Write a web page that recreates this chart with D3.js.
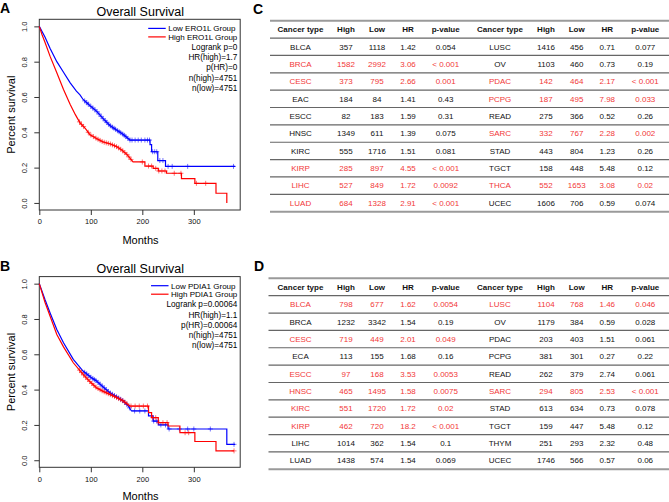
<!DOCTYPE html>
<html>
<head>
<meta charset="utf-8">
<script src="https://cdn.jsdelivr.net/npm/d3@7"></script>
<style>
  body { margin: 0; background: #fff; }
  svg { display: block; font-family: "Liberation Sans", Arial, sans-serif; }
</style>
</head>
<body>
<div id="fig"></div>
<script>
const MONTH_TICKS = [0, 100, 200, 300];
const SURV_TICKS = [0, 0.2, 0.4, 0.6, 0.8, 1.0];

// KM curves, [months, survival], step corners given explicitly
const ERO1L_LOW = [[0,1],[11,0.94],[21,0.875],[34,0.8],[47,0.74],[60,0.68],[72,0.633],[79,0.612],[85,0.586],[98,0.552],[111,0.52],[124,0.477],[137,0.439],[150,0.413],[163,0.388],[176,0.356],[215,0.356],[215,0.33],[218,0.33],[218,0.29],[230,0.29],[230,0.24],[245,0.24],[245,0.207],[380,0.207]];
const ERO1L_HIGH = [[0,1],[5,0.955],[11,0.91],[21,0.83],[34,0.737],[47,0.642],[60,0.558],[70,0.5],[79,0.454],[90,0.42],[98,0.388],[111,0.365],[124,0.345],[137,0.335],[150,0.319],[160,0.3],[170,0.275],[182,0.232],[205,0.232],[205,0.209],[221,0.209],[221,0.196],[231,0.196],[231,0.181],[247,0.181],[247,0.168],[276,0.168],[276,0.138],[302,0.138],[302,0.111],[343,0.111],[343,0.055],[364,0.055],[364,0]];
const ERO1L_LOW_CENSOR = [88,92,95,100,104,108,112,116,120,124,128,131,135,138,142,145,148,152,155,158,162,165,168,172,176,180,186,192,198,205,210,214,220,224,228,234,240,250,258,288,377];
const ERO1L_HIGH_CENSOR = [78,82,86,95,100,105,110,114,118,122,126,130,134,138,142,146,150,154,158,162,166,170,174,178,200,212,218,226,232,238,244,262,275,305,323];

const PDIA1_LOW = [[0,1],[11,0.91],[21,0.834],[34,0.74],[47,0.665],[66,0.571],[85,0.505],[100,0.47],[111,0.449],[124,0.415],[137,0.382],[150,0.36],[163,0.336],[172,0.31],[179,0.279],[212,0.279],[212,0.251],[221,0.251],[221,0.222],[231,0.222],[231,0.2],[250,0.2],[250,0.177],[364,0.177],[364,0.09],[380,0.09]];
const PDIA1_HIGH = [[0,1],[11,0.895],[21,0.815],[34,0.712],[47,0.642],[66,0.552],[85,0.486],[100,0.44],[111,0.411],[124,0.39],[137,0.373],[150,0.355],[163,0.336],[170,0.32],[176,0.307],[212,0.307],[212,0.27],[218,0.27],[218,0.241],[231,0.241],[231,0.213],[250,0.213],[250,0.194],[273,0.194],[273,0.156],[302,0.156],[302,0.106],[343,0.106],[343,0.053],[378,0.053]];
const PDIA1_LOW_CENSOR = [88,92,96,100,104,107,110,114,118,122,126,130,134,138,142,146,150,154,158,162,166,170,175,185,195,205,222,228,236,245,252,272,288,300,332,378];
const PDIA1_HIGH_CENSOR = [78,82,86,90,94,98,102,106,110,114,118,122,126,130,134,138,142,146,150,154,158,162,166,170,178,186,194,202,210,220,226,232,240,248,283,290,378];

const LEGEND_A = ["Low ERO1L Group", "High ERO1L Group"];
const STATS_A = ["Logrank p=0", "HR(high)=1.7", "p(HR)=0", "n(high)=4751", "n(low)=4751"];
const LEGEND_B = ["Low PDIA1 Group", "High PDIA1 Group"];
const STATS_B = ["Logrank p=0.00064", "HR(high)=1.1", "p(HR)=0.00064", "n(high)=4751", "n(low)=4751"];

// tables
const HEADER = ["Cancer type", "High", "Low", "HR", "p-value"];
const C_TYPE = ["BLCA","BRCA","CESC","EAC","ESCC","HNSC","KIRC","KIRP","LIHC","LUAD","LUSC","OV","PDAC","PCPG","READ","SARC","STAD","TGCT","THCA","UCEC"];
const C_HIGH = [357,1582,373,184,82,1349,555,285,527,684,1416,1103,142,187,275,332,443,158,552,1606];
const C_LOW = [1118,2992,795,84,183,611,1716,897,849,1328,456,460,464,495,366,767,804,448,1653,706];
const C_HR = ["1.42","3.06","2.66","1.41","1.59","1.39","1.51","4.55","1.72","2.91","0.71","0.73","2.17","7.98","0.52","2.28","1.23","5.48","3.08","0.59"];
const C_P = ["0.054","< 0.001","0.001","0.43","0.31","0.075","0.081","< 0.001","0.0092","< 0.001","0.077","0.19","< 0.001","0.033","0.26","0.002","0.26","0.12","0.02","0.074"];
const C_SIG = [0,1,1,0,0,0,0,1,1,1,0,0,1,1,0,1,0,0,1,0];

const D_TYPE = ["BLCA","BRCA","CESC","ECA","ESCC","HNSC","KIRC","KIRP","LIHC","LUAD","LUSC","OV","PDAC","PCPG","READ","SARC","STAD","TGCT","THYM","UCEC"];
const D_HIGH = [798,1232,719,113,97,465,551,462,1014,1438,1104,1179,203,381,262,294,613,159,251,1746];
const D_LOW = [677,3342,449,155,168,1495,1720,720,362,574,768,384,403,301,379,805,634,447,293,566];
const D_HR = ["1.62","1.54","2.01","1.68","3.53","1.58","1.72","18.2","1.54","1.54","1.46","0.59","1.51","0.27","2.74","2.53","0.73","5.48","2.32","0.57"];
const D_P = ["0.0054","0.19","0.049","0.16","0.0053","0.0075","0.02","< 0.001","0.1","0.069","0.046","0.028","0.061","0.22","0.061","< 0.001","0.078","0.12","0.48","0.06"];
const D_SIG = [1,0,1,0,1,1,1,1,0,0,1,0,0,0,0,1,0,0,0,0];

const BLUE = "#0000ff", RED = "#ff0000", TRED = "#f23838";

const svg = d3.select("#fig").append("svg")
  .attr("width", 669)
  .attr("height", 502);

function survAt(c, t) {
  for (let i = 0; i < c.length - 1; i++) {
    const t0 = c[i][0], s0 = c[i][1], t1 = c[i + 1][0], s1 = c[i + 1][1];
    if (t >= t0 && t < t1) return s0 + (s1 - s0) * (t - t0) / (t1 - t0);
  }
  return c[c.length - 1][1];
}

function drawKM(top, low, high, lowC, highC, legend, stats) {
  const g = svg.append("g");
  const x = d3.scaleLinear().domain([0, 390]).range([39.3, 240.2]);
  const y = d3.scaleLinear().domain([-0.04, 1.04]).range([top + 190.7, top]);

  g.append("rect")
    .attr("x", x.range()[0]).attr("y", top)
    .attr("width", x.range()[1] - x.range()[0]).attr("height", 190.7)
    .attr("fill", "none").attr("stroke", "#333").attr("stroke-width", 1);

  const xAxis = g.append("g")
    .attr("transform", "translate(0," + (top + 190.7) + ")")
    .call(d3.axisBottom(x).tickValues(MONTH_TICKS).tickSize(5).tickPadding(4).tickFormat(d3.format("d")));
  xAxis.select(".domain").remove();
  xAxis.selectAll("line").attr("stroke", "#333");
  xAxis.selectAll("text").style("font-size", "7.5px").style("font-family", "Liberation Sans").attr("fill", "#111");

  const yAxis = g.append("g")
    .attr("transform", "translate(39.3,0)")
    .call(d3.axisLeft(y).tickValues(SURV_TICKS).tickSize(5).tickFormat(d3.format(".1f")));
  yAxis.select(".domain").remove();
  yAxis.selectAll("line").attr("stroke", "#333");
  yAxis.selectAll("text")
    .attr("x", null).attr("dy", null)
    .attr("transform", "translate(-15.3,0) rotate(-90)")
    .attr("text-anchor", "middle")
    .attr("dy", "0.35em")
    .style("font-size", "7.5px").style("font-family", "Liberation Sans").attr("fill", "#111");

  g.append("text")
    .attr("x", 140.3).attr("y", top - 3.2)
    .attr("text-anchor", "middle")
    .style("font-size", "12.5px")
    .text("Overall Survival");

  g.append("text")
    .attr("x", 140.5).attr("y", Math.min(top + 225, 500))
    .attr("text-anchor", "middle")
    .style("font-size", "11px")
    .text("Months");

  g.append("text")
    .attr("transform", "translate(15," + (top + 95.4) + ") rotate(-90)")
    .attr("text-anchor", "middle")
    .style("font-size", "11px")
    .text("Percent survival");

  const line = d3.line().x(d => x(d[0])).y(d => y(d[1]));

  [[low, lowC, BLUE], [high, highC, RED]].forEach(function (p) {
    g.append("path")
      .attr("d", line(p[0]))
      .attr("fill", "none")
      .attr("stroke", p[2])
      .attr("stroke-width", 1.2);
    g.selectAll(null).data(p[1]).enter().append("path")
      .attr("d", function (t) {
        const cx = x(t), cy = y(survAt(p[0], t));
        return "M" + (cx - 2.5) + "," + cy + "H" + (cx + 2.5) + "M" + cx + "," + (cy - 2.5) + "V" + (cy + 2.5);
      })
      .attr("stroke", p[2])
      .attr("stroke-opacity", 0.55)
      .attr("stroke-width", 1);
  });

  // legend
  const right = 237.3;
  const offs = [9.1, 17.6, 28, 38.2, 48.2, 58.8, 68.7];
  const lab = g.selectAll(null).data(legend).enter().append("text")
    .attr("y", (d, i) => top + offs[i])
    .attr("dy", "0.35em")
    .style("font-size", "8px")
    .text(d => d);
  let w = 0;
  lab.each(function () { w = Math.max(w, this.getComputedTextLength()); });
  const start = right - w;
  lab.attr("x", start);
  g.selectAll(null).data([BLUE, RED]).enter().append("line")
    .attr("x1", start - 20).attr("x2", start - 2.5)
    .attr("y1", (d, i) => top + offs[i]).attr("y2", (d, i) => top + offs[i])
    .attr("stroke", d => d).attr("stroke-width", 1.2);

  g.selectAll(null).data(stats).enter().append("text")
    .attr("x", right)
    .attr("y", (d, i) => top + offs[i + 2])
    .attr("dy", "0.35em")
    .attr("text-anchor", "end")
    .style("font-size", "8.2px")
    .text(d => d);
}

drawKM(19.3, ERO1L_LOW, ERO1L_HIGH, ERO1L_LOW_CENSOR, ERO1L_HIGH_CENSOR, LEGEND_A, STATS_A);
drawKM(276.6, PDIA1_LOW, PDIA1_HIGH, PDIA1_LOW_CENSOR, PDIA1_HIGH_CENSOR, LEGEND_B, STATS_B);

function drawTable(left, top, types, high, low, hr, p, sig) {
  const g = svg.append("g").style("font-size", "8px");
  const y = d3.scaleBand().domain(d3.range(11)).range([top, top + 191]);
  const colX = [300.5, 346, 377, 408, 445.7, 500, 546, 576.7, 607.3, 645.3];

  g.selectAll(null).data(d3.range(12)).enter().append("line")
    .attr("x1", left).attr("x2", 669)
    .attr("y1", i => top + i * y.bandwidth()).attr("y2", i => top + i * y.bandwidth())
    .attr("stroke", i => (i === 0 || i === 11) ? "#9a9a9a" : "#666")
    .attr("stroke-width", i => (i === 0 || i === 11) ? 2 : 1.2);

  g.selectAll(null).data(HEADER.concat(HEADER)).enter().append("text")
    .attr("x", (d, i) => colX[i])
    .attr("y", y(0) + y.bandwidth() / 2)
    .attr("dy", "0.35em")
    .attr("text-anchor", "middle")
    .style("font-weight", "bold")
    .attr("fill", "#111")
    .text(d => d);

  const cells = [];
  for (let r = 0; r < 10; r++) {
    [r, r + 10].forEach(function (k, half) {
      [types[k], high[k], low[k], hr[k], p[k]].forEach(function (v, c) {
        cells.push({ row: r + 1, col: half * 5 + c, v: v, sig: sig[k] });
      });
    });
  }
  g.selectAll(null).data(cells).enter().append("text")
    .attr("x", d => colX[d.col])
    .attr("y", d => y(d.row) + y.bandwidth() / 2)
    .attr("dy", "0.35em")
    .attr("text-anchor", "middle")
    .attr("fill", d => d.sig ? TRED : "#111")
    .text(d => d.v);
}

drawTable(270, 20.7, C_TYPE, C_HIGH, C_LOW, C_HR, C_P, C_SIG);
drawTable(268.5, 278.3, D_TYPE, D_HIGH, D_LOW, D_HR, D_P, D_SIG);

// panel letters
svg.selectAll(null)
  .data([["A", 0, 12.7], ["B", 0, 270.5], ["C", 253, 14], ["D", 254, 270.7]])
  .enter().append("text")
  .attr("x", d => d[1]).attr("y", d => d[2])
  .style("font-size", "14px").style("font-weight", "bold")
  .text(d => d[0]);
</script>
</body>
</html>
